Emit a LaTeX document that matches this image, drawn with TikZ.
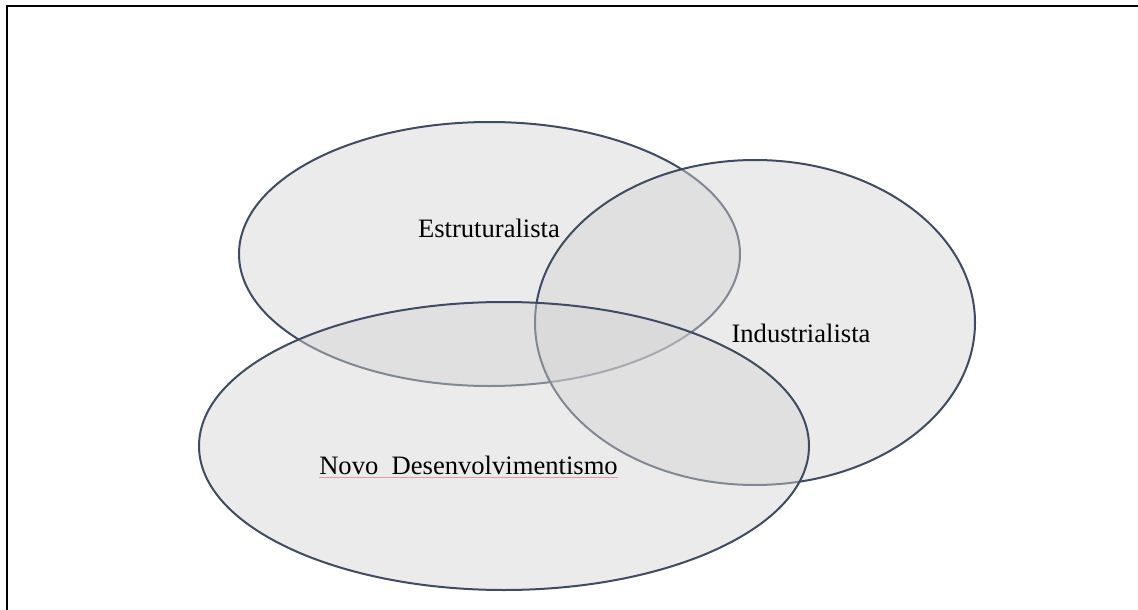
\documentclass[tikz,border=0pt]{standalone}
\usepackage{fontspec}
\setmainfont{Liberation Serif}
\usetikzlibrary{shapes.geometric}
\definecolor{ringline}{RGB}{62,76,99}
\definecolor{ringfill}{RGB}{211,211,211}
\definecolor{spellred}{RGB}{240,150,160}
\tikzset{
  ring/.style={ellipse, draw=ringline, line width=2pt, fill=ringfill, fill opacity=0.45, draw opacity=1, inner sep=0pt},
  lab/.style={anchor=base, font=\fontsize{26.6}{32}\selectfont, text=black, inner sep=0pt},
  frame/.style={line width=2.4pt, black}
}
\begin{document}
\begin{tikzpicture}[x=1pt,y=-1pt]
\useasboundingbox (0,0) rectangle (1138,610);
\coordinate (ftr) at (1138,6);
\coordinate (ftl) at (7,6);
\coordinate (fbl) at (7,610);
\draw[frame] (ftr) -- (ftl) -- (fbl);
\node[ring, minimum width=501pt, minimum height=264pt] (estr) at (489.5,254) {};
\node[ring, minimum width=440pt, minimum height=325pt] (ind) at (755,322.5) {};
\node[ring, minimum width=610pt, minimum height=288pt] (novo) at (504,446) {};
\node[lab] (testr) at (489,237) {Estruturalista};
\node[lab] (tind) at (801,342) {Industrialista};
\node[lab] (tnovo) at (468.5,474) {Novo\ \ Desenvolvimentismo};
\draw[spellred, line width=0.7pt] ([yshift=-3.5pt]tnovo.base west) -- ([yshift=-3.5pt]tnovo.base east);
\end{tikzpicture}
\end{document}
